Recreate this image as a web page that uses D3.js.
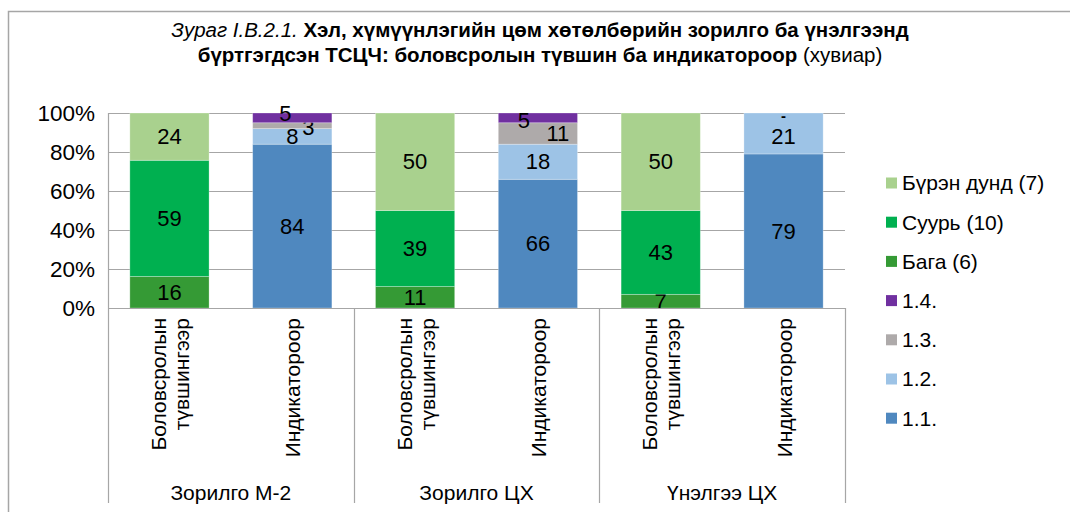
<!DOCTYPE html>
<html>
<head>
<meta charset="utf-8">
<script src="https://cdn.jsdelivr.net/npm/d3@7"></script>
<style>
body { margin: 0; background: #fff; }
svg text { font-family: Arial, "Liberation Sans", sans-serif; }
</style>
</head>
<body>
<div id="chart"></div>
<script>
// bars, left to right
var groups = ["Зорилго М-2", "Зорилго ЦХ", "Үнэлгээ ЦХ"]
var barKinds = ["level", "indicator", "level", "indicator", "level", "indicator"]
var levelLabel = ["Боловсролын", "түвшингээр"]
var indicatorLabel = ["Индикатороор"]

// series (stack order bottom to top)
var levelSeries = ["Бага (6)", "Суурь (10)", "Бүрэн дунд (7)"]
var indicatorSeries = ["1.1.", "1.2.", "1.3.", "1.4."]

var bagaValues = [16, null, 11, null, 7, null]
var suurValues = [59, null, 39, null, 43, null]
var burenValues = [24, null, 50, null, 50, null]
var ind11Values = [null, 84, null, 66, null, 79]
var ind12Values = [null, 8, null, 18, null, 21]
var ind13Values = [null, 3, null, 11, null, 0]
var ind14Values = [null, 5, null, 5, null, 0]

var yTicks = [0, 20, 40, 60, 80, 100]
var legendOrder = ["Бүрэн дунд (7)", "Суурь (10)", "Бага (6)", "1.4.", "1.3.", "1.2.", "1.1."]

var colors = {
	"Бүрэн дунд (7)": "#a9d18e",
	"Суурь (10)": "#00b050",
	"Бага (6)": "#359a35",
	"1.4.": "#7030a0",
	"1.3.": "#aeaaaa",
	"1.2.": "#9dc3e6",
	"1.1.": "#4f88bf"
}
var seriesValues = {
	"Бага (6)": bagaValues, "Суурь (10)": suurValues, "Бүрэн дунд (7)": burenValues,
	"1.1.": ind11Values, "1.2.": ind12Values, "1.3.": ind13Values, "1.4.": ind14Values
}
// hand moved labels in the original (bar index + series)
var labelNudge = {
	"1|1.3.": [16, 2], "1|1.4.": [-7, -5],
	"3|1.3.": [20, 0], "3|1.4.": [-14, 2],
	"5|1.2.": [0, 3], "5|1.3.": [0, 100], "5|1.4.": [0, 3]
}

var W = 1070, H = 512
var plot = {left: 108, right: 845, top: 113, bottom: 308}
var svg = d3.select("#chart").append("svg").attr("width", W).attr("height", H)

// outer frame
svg.append("path").attr("d", "M8.5," + H + "V11.5H" + W)
	.attr("fill", "none").attr("stroke", "#a6a6a6").attr("stroke-width", 1.5)

// title
var title = svg.append("text").attr("x", 540).attr("text-anchor", "middle").attr("font-size", 20.5)
var t1 = title.append("tspan").attr("x", 540).attr("y", 37)
t1.append("tspan").attr("font-style", "italic").text("Зураг I.B.2.1. ")
t1.append("tspan").attr("font-weight", "bold").text("Хэл, хүмүүнлэгийн цөм хөтөлбөрийн зорилго ба үнэлгээнд")
var t2 = title.append("tspan").attr("x", 540).attr("y", 62)
t2.append("tspan").attr("font-weight", "bold").text("бүртгэгдсэн ТСЦЧ: боловсролын түвшин ба индикатороор")
t2.append("tspan").text(" (хувиар)")

var x = d3.scaleBand().domain(d3.range(barKinds.length)).range([plot.left, plot.right]).paddingInner(0.355).paddingOuter(0.178)
var y = d3.scaleLinear().domain([0, 100]).range([plot.bottom, plot.top])

// gridlines
svg.append("g").selectAll("line").data(yTicks.slice(1)).enter().append("line")
	.attr("x1", plot.left).attr("x2", plot.right)
	.attr("y1", function(d){ return Math.round(y(d)) + 0.5 }).attr("y2", function(d){ return Math.round(y(d)) + 0.5 })
	.attr("stroke", "#a6a6a6").attr("stroke-width", 1.2)

var yAxis = svg.append("g").attr("transform", "translate(" + (plot.left - 10) + ",0)")
	.call(d3.axisLeft(y).tickValues(yTicks).tickSize(0).tickFormat(function(d){ return d + "%" }))
yAxis.select(".domain").remove()
yAxis.selectAll("text").attr("font-size", 22.5).attr("fill", "#000").attr("dy", "0.35em")

// stacked bars
var bars = svg.append("g")
barKinds.forEach(function(kind, i) {
	var series = kind === "level" ? levelSeries : indicatorSeries
	var total = d3.sum(series, function(s){ return seriesValues[s][i] })
	var acc = 0
	series.forEach(function(s) {
		var v = seriesValues[s][i]
		var y0 = acc / total * 100, y1 = (acc + v) / total * 100
		acc += v
		if (v > 0) {
			bars.append("rect")
				.attr("x", x(i)).attr("width", x.bandwidth())
				.attr("y", y(y1)).attr("height", y(y0) - y(y1))
				.attr("fill", colors[s]).attr("stroke", "rgba(255,255,255,0.35)").attr("stroke-width", 0.8)
		}
		var nudge = labelNudge[i + "|" + s] || [0, 0]
		if (nudge[1] === 100) return
		bars.append("text")
			.attr("x", x(i) + x.bandwidth() / 2 + nudge[0])
			.attr("y", y((y0 + y1) / 2) + nudge[1])
			.attr("dy", "0.35em").attr("text-anchor", "middle")
			.attr("font-size", v > 0 ? 22 : 15).attr("font-weight", v > 0 ? "normal" : "bold")
			.text(v > 0 ? v : "-")
	})
})

// category axis
var axis = svg.append("g").attr("stroke", "#a6a6a6").attr("stroke-width", 1.2)
axis.append("line").attr("x1", plot.left).attr("x2", plot.right).attr("y1", plot.bottom + 0.5).attr("y2", plot.bottom + 0.5)
var sepX = [plot.left, x(2) - x.step() * x.paddingInner() / 2, x(4) - x.step() * x.paddingInner() / 2, plot.right]
axis.selectAll(".sep").data(sepX).enter().append("line")
	.attr("x1", function(d){ return Math.round(d) + 0.5 }).attr("x2", function(d){ return Math.round(d) + 0.5 })
	.attr("y1", function(d, k){ return k === 0 ? plot.top : plot.bottom }).attr("y2", 503)

barKinds.forEach(function(kind, i) {
	var lines = kind === "level" ? levelLabel : indicatorLabel
	var cx = x(i) + x.bandwidth() / 2
	lines.forEach(function(line, j) {
		var lx = cx - (lines.length - 1) * 11.5 + j * 23 + 8
		svg.append("text")
			.attr("transform", "translate(" + lx + "," + (plot.bottom + 10) + ") rotate(-90)")
			.attr("text-anchor", "end").attr("font-size", 21)
			.text(line)
	})
})

groups.forEach(function(g, k) {
	var cx = (sepX[k] + sepX[k + 1]) / 2
	svg.append("text").attr("x", cx).attr("y", 500).attr("text-anchor", "middle").attr("font-size", 21).text(g)
})

// legend
var legend = svg.append("g").selectAll("g").data(legendOrder).enter().append("g")
	.attr("transform", function(d, k){ return "translate(886," + (183 + k * 39.2) + ")" })
legend.append("rect").attr("x", 0).attr("y", -5.5).attr("width", 11).attr("height", 11)
	.attr("fill", function(d){ return colors[d] })
legend.append("text").attr("x", 16).attr("dy", "0.35em").attr("font-size", 21).text(function(d){ return d })
</script>
</body>
</html>
